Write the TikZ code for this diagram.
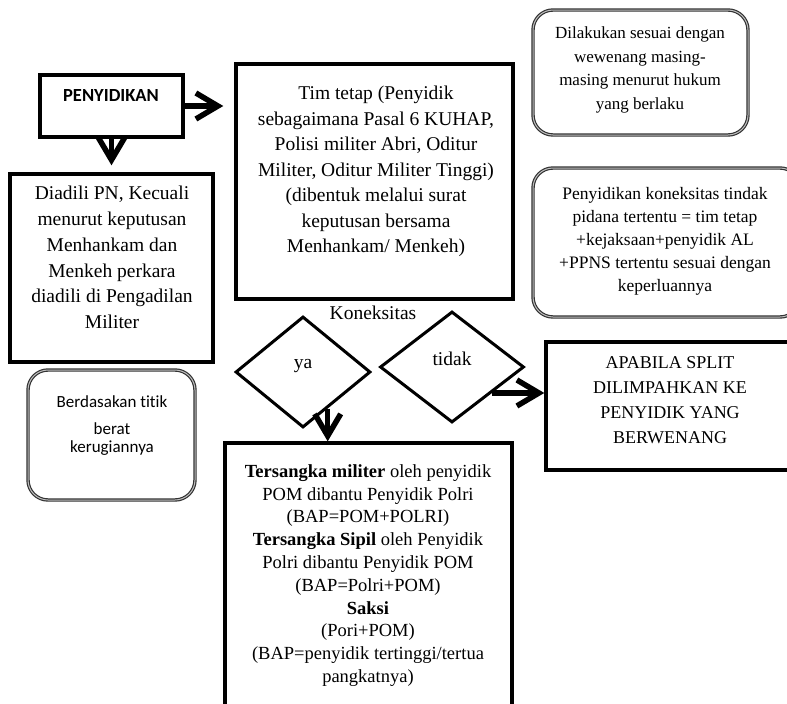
\documentclass[tikz,border=0pt]{standalone}
\usepackage{fontspec}
\setmainfont{Liberation Serif}
\newfontfamily\calibri[Ligatures=NoCommon]{Carlito}
\usetikzlibrary{arrows.meta,positioning,shapes.geometric}

\begin{document}
\begin{tikzpicture}[x=1pt,y=-1pt,
  kotak/.style={draw=black,line width=3.4pt,inner sep=0pt},
  bulat/.style={draw=black!80,double=black!25,double distance=1pt,line width=1.2pt,rounded corners=20pt,inner sep=0pt},
  belah/.style={diamond,draw=black,line width=3pt,inner sep=0pt},
  isi/.style={align=center,inner sep=0pt},
  panah/.style={line width=5.5pt,-{Straight Barb[length=22pt,width=26pt]}}]
\useasboundingbox (0,0) rectangle (787,704);
% kotak-kotak
\node[kotak,minimum width=143pt,minimum height=62pt] (pny) at (111.5,106) {};
\node[kotak,minimum width=277pt,minimum height=235pt] (tim) at (374.5,181.5) {};
\node[kotak,minimum width=203pt,minimum height=188pt] (diadili) at (111.5,268) {};
\node[bulat,minimum width=215pt,minimum height=125pt] (lakukan) at (640.5,72.5) {};
\node[bulat,minimum width=267pt,minimum height=149pt] (konek) at (666.5,242.5) {};
\node[kotak,minimum width=248pt,minimum height=128pt] (apa) at (670,406) {};
\node[bulat,minimum width=167pt,minimum height=130pt] (berat) at (111.5,435) {};
\node[kotak,minimum width=287pt,minimum height=290pt] (bawah) at (368.5,588) {};
\node[belah,minimum width=135pt,minimum height=111pt] (ya) at (303,372) {};
\node[belah,minimum width=144pt,minimum height=111pt] (tdk) at (452,367) {};
% teks
\node[isi,font=\calibri\bfseries\fontsize{18.5}{20}\selectfont] (pnytxt) at (111,96) {PENYIDIKAN};
\node[isi,font=\fontsize{19.5}{25.5}\selectfont] (timtxt) at (376,171.5) {Tim tetap (Penyidik\\sebagaimana Pasal 6 KUHAP,\\Polisi militer Abri, Oditur\\Militer, Oditur Militer Tinggi)\\(dibentuk melalui surat\\keputusan bersama\\Menhankam/ Menkeh)};
\node[isi,font=\fontsize{19.5}{25.8}\selectfont] (diadilitxt) at (112,257.5) {Diadili PN, Kecuali\\menurut keputusan\\Menhankam dan\\Menkeh perkara\\diadili di Pengadilan\\Militer};
\node[isi,font=\fontsize{17}{23.5}\selectfont] (lakukantxt) at (640,70) {Dilakukan sesuai dengan\\wewenang masing-\\masing menurut hukum\\yang berlaku};
\node[isi,font=\fontsize{17.5}{23}\selectfont] (konektxt) at (665,241) {Penyidikan koneksitas tindak\\pidana tertentu = tim tetap\\+kejaksaan+penyidik AL\\+PPNS tertentu sesuai dengan\\keperluannya};
\node[isi,font=\fontsize{18}{25}\selectfont] (apatxt) at (670,400.5) {APABILA SPLIT\\DILIMPAHKAN KE\\PENYIDIK YANG\\BERWENANG};
\node[isi,font=\calibri\fontsize{17}{18}\selectfont] (berattxt) at (112,425.5) {Berdasakan titik\\[9pt]berat\\kerugiannya};
\node[isi,font=\fontsize{18.5}{22.8}\selectfont] (bawahtxt) at (368,575.5) {\textbf{Tersangka militer} oleh penyidik\\POM dibantu Penyidik Polri\\(BAP=POM+POLRI)\\\textbf{Tersangka Sipil} oleh Penyidik\\Polri dibantu Penyidik POM\\(BAP=Polri+POM)\\\textbf{Saksi}\\(Pori+POM)\\(BAP=penyidik tertinggi/tertua\\pangkatnya)};
\node[isi,font=\fontsize{19.5}{22}\selectfont] (koneksitas) at (373,313) {Koneksitas};
\node[isi,font=\fontsize{19.5}{22}\selectfont] (yatxt) at (303,366) {ya};
\node[isi,font=\fontsize{19.5}{22}\selectfont] (tdktxt) at (452,359) {tidak};
% panah
\draw[panah,shorten >=11pt] (pny.east) -- (pny.east -| tim.west);
\draw[panah,shorten >=7pt] (pny.south) -- (pny.south |- diadili.north);
\draw[panah] (ya.-56) -- (ya.-56 |- bawah.north);
\draw[panah] (tdk.-33) -- (tdk.-33 -| apa.west);
\end{tikzpicture}
\end{document}
